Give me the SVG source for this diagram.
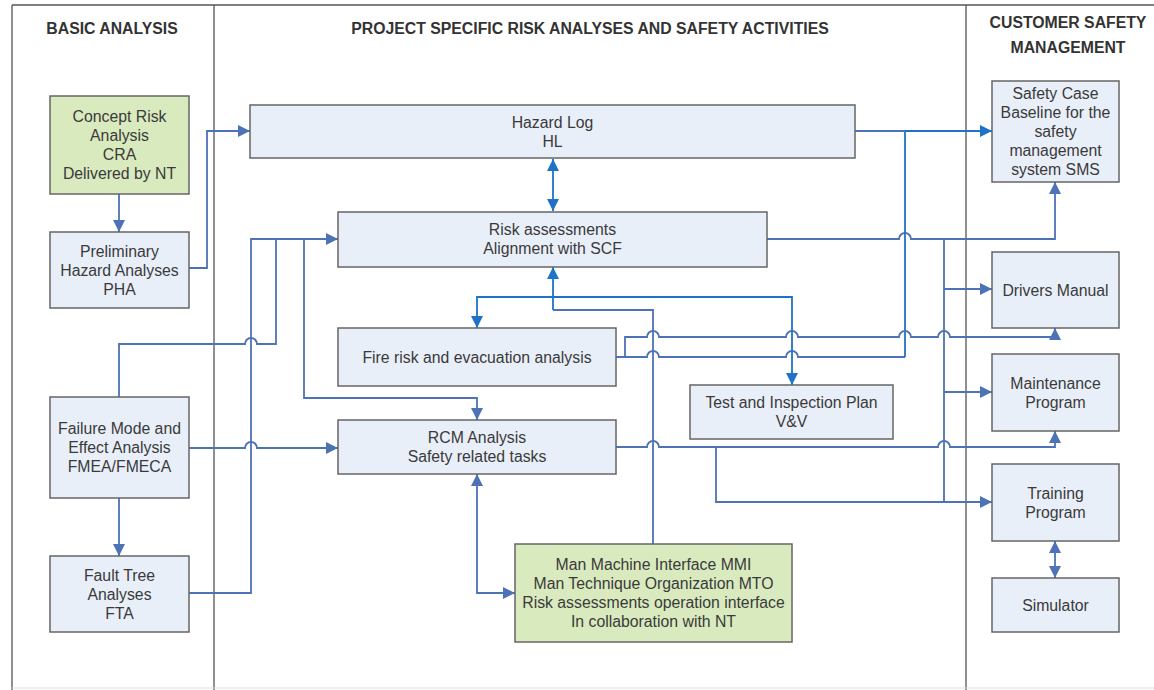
<svg xmlns="http://www.w3.org/2000/svg" width="1154" height="690" viewBox="0 0 1154 690">
<style>
.frame{stroke:#555;stroke-width:1.3;fill:none}
.hdr{font-family:"Liberation Sans",Arial,sans-serif;font-weight:bold;font-size:15.8px;fill:#333;text-anchor:middle}
.box{fill:#e9eff9;stroke:#666;stroke-width:1.5}
.green{fill:#d9eabf;stroke:#666;stroke-width:1.5}
.t{font-family:"Liberation Sans",Arial,sans-serif;font-size:15.8px;fill:#3a3a3a;text-anchor:middle;dominant-baseline:central}
.c{fill:none;stroke:#4d72b5;stroke-width:1.8}
.cb{fill:none;stroke:#1f73c6;stroke-width:1.8}
</style>
<defs>
<marker id="a" markerUnits="userSpaceOnUse" markerWidth="12" markerHeight="12" viewBox="0 0 10 10" refX="10" refY="5" orient="auto-start-reverse"><path d="M0,0 L10,5 L0,10 z" fill="#4d72b5"/></marker>
<marker id="b" markerUnits="userSpaceOnUse" markerWidth="12" markerHeight="12" viewBox="0 0 10 10" refX="10" refY="5" orient="auto-start-reverse"><path d="M0,0 L10,5 L0,10 z" fill="#1f73c6"/></marker>
</defs>
<rect width="1154" height="690" fill="#fff"/>
<g id="frame">
<path class="frame" d="M12 5 H1154 M12 5 V690 M214 5 V690 M966 5 V690"/>
<path d="M12 688 H1154" stroke="#ddd" stroke-width="1"/>
<text class="hdr" x="112" y="34">BASIC ANALYSIS</text>
<text class="hdr" x="590" y="34">PROJECT SPECIFIC RISK ANALYSES AND SAFETY ACTIVITIES</text>
<text class="hdr" x="1068" y="28">CUSTOMER SAFETY</text>
<text class="hdr" x="1068" y="53">MANAGEMENT</text>
</g>
<g id="connectors">
<path class="c" d="M119 194 V232" marker-end="url(#a)"/>
<path class="c" d="M189 268 H207 V131 H250" marker-end="url(#a)"/>
<path class="cb" d="M553 159 V211" marker-start="url(#b)" marker-end="url(#b)"/>
<path class="c" d="M119 498 V556" marker-end="url(#a)"/>
<path class="c" d="M189 448 H245 A6 6 0 0 1 257 448 H338" marker-end="url(#a)"/>
<path class="c" d="M189 593 H251 V239 H338" marker-end="url(#a)"/>
<path class="c" d="M119 397 V344 H245 A6 6 0 0 1 257 344 H276 V239"/>
<path class="c" d="M304 239 V398 H477 V420" marker-end="url(#a)"/>
<path class="c" d="M767 239 H899 A6 6 0 0 1 911 239 H1055 V182" marker-end="url(#a)"/>
<path class="c" d="M944 239 V502 H992" marker-end="url(#a)"/>
<path class="c" d="M944 289 H992" marker-end="url(#a)"/>
<path class="c" d="M944 392 H992" marker-end="url(#a)"/>
<path class="c" d="M616 447 H647 A6 6 0 0 1 659 447 H938 A6 6 0 0 1 950 447 H1055 V431" marker-end="url(#a)"/>
<path class="c" d="M716 447 V502 H944"/>
<path class="c" d="M616 357 H647 A6 6 0 0 1 659 357 H786 A6 6 0 0 1 798 357 H905"/>
<path class="cb" d="M905 357 V131"/>
<path class="c" d="M855 131 H905"/>
<path class="cb" d="M905 131 H992" marker-end="url(#b)"/>
<path class="c" d="M625 357 V337 H647 A6 6 0 0 1 659 337 H786 A6 6 0 0 1 798 337 H899 A6 6 0 0 1 911 337 H938 A6 6 0 0 1 950 337 H1055 V328" marker-end="url(#a)"/>
<path class="c" d="M653 544 V310 H553"/>
<path class="cb" d="M553 310 V267" marker-end="url(#b)"/>
<path class="cb" d="M553 297 H477 V328" marker-end="url(#b)"/>
<path class="cb" d="M553 297 H792 V385" marker-end="url(#b)"/>
<path class="c" d="M477 474 V593 H515" marker-start="url(#a)" marker-end="url(#a)"/>
<path class="c" d="M1055 541 V578" marker-start="url(#a)" marker-end="url(#a)"/>
</g>
<g id="cra">
<rect class="green" x="50" y="96" width="139" height="98"/>
<text class="t" x="119.5" y="116.5">Concept Risk</text>
<text class="t" x="119.5" y="135.5">Analysis</text>
<text class="t" x="119.5" y="154.5">CRA</text>
<text class="t" x="119.5" y="173.5">Delivered by NT</text>
</g>
<g id="pha">
<rect class="box" x="50" y="232" width="139" height="76"/>
<text class="t" x="119.5" y="251">Preliminary</text>
<text class="t" x="119.5" y="270">Hazard Analyses</text>
<text class="t" x="119.5" y="289">PHA</text>
</g>
<g id="fmea">
<rect class="box" x="50" y="397" width="139" height="101"/>
<text class="t" x="119.5" y="428.5">Failure Mode and</text>
<text class="t" x="119.5" y="447.5">Effect Analysis</text>
<text class="t" x="119.5" y="466.5">FMEA/FMECA</text>
</g>
<g id="fta">
<rect class="box" x="50" y="556" width="139" height="76"/>
<text class="t" x="119.5" y="575">Fault Tree</text>
<text class="t" x="119.5" y="594">Analyses</text>
<text class="t" x="119.5" y="613">FTA</text>
</g>
<g id="hl">
<rect class="box" x="250" y="105" width="605" height="53"/>
<text class="t" x="552.5" y="122">Hazard Log</text>
<text class="t" x="552.5" y="141">HL</text>
</g>
<g id="ra">
<rect class="box" x="338" y="212" width="429" height="55"/>
<text class="t" x="552.5" y="229.5">Risk assessments</text>
<text class="t" x="552.5" y="248.5">Alignment with SCF</text>
</g>
<g id="fire">
<rect class="box" x="338" y="328" width="278" height="58"/>
<text class="t" x="477" y="357">Fire risk and evacuation analysis</text>
</g>
<g id="rcm">
<rect class="box" x="338" y="420" width="278" height="54"/>
<text class="t" x="477" y="437.5">RCM Analysis</text>
<text class="t" x="477" y="456.5">Safety related tasks</text>
</g>
<g id="tip">
<rect class="box" x="690" y="385" width="203" height="54"/>
<text class="t" x="791.5" y="402.5">Test and Inspection Plan</text>
<text class="t" x="791.5" y="421.5">V&amp;V</text>
</g>
<g id="mmi">
<rect class="green" x="515" y="544" width="277" height="98"/>
<text class="t" x="653.5" y="564.5">Man Machine Interface MMI</text>
<text class="t" x="653.5" y="583.5">Man Technique Organization MTO</text>
<text class="t" x="653.5" y="602.5">Risk assessments operation interface</text>
<text class="t" x="653.5" y="621.5">In collaboration with NT</text>
</g>
<g id="sc">
<rect class="box" x="992" y="81" width="127" height="101"/>
<text class="t" x="1055.5" y="93.5">Safety Case</text>
<text class="t" x="1055.5" y="112.5">Baseline for the</text>
<text class="t" x="1055.5" y="131.5">safety</text>
<text class="t" x="1055.5" y="150.5">management</text>
<text class="t" x="1055.5" y="169.5">system SMS</text>
</g>
<g id="dm">
<rect class="box" x="992" y="252" width="127" height="76"/>
<text class="t" x="1055.5" y="290">Drivers Manual</text>
</g>
<g id="mp">
<rect class="box" x="992" y="354" width="127" height="77"/>
<text class="t" x="1055.5" y="383">Maintenance</text>
<text class="t" x="1055.5" y="402">Program</text>
</g>
<g id="tp">
<rect class="box" x="992" y="464" width="127" height="77"/>
<text class="t" x="1055.5" y="493">Training</text>
<text class="t" x="1055.5" y="512">Program</text>
</g>
<g id="sim">
<rect class="box" x="992" y="578" width="127" height="54"/>
<text class="t" x="1055.5" y="605">Simulator</text>
</g>
</svg>
